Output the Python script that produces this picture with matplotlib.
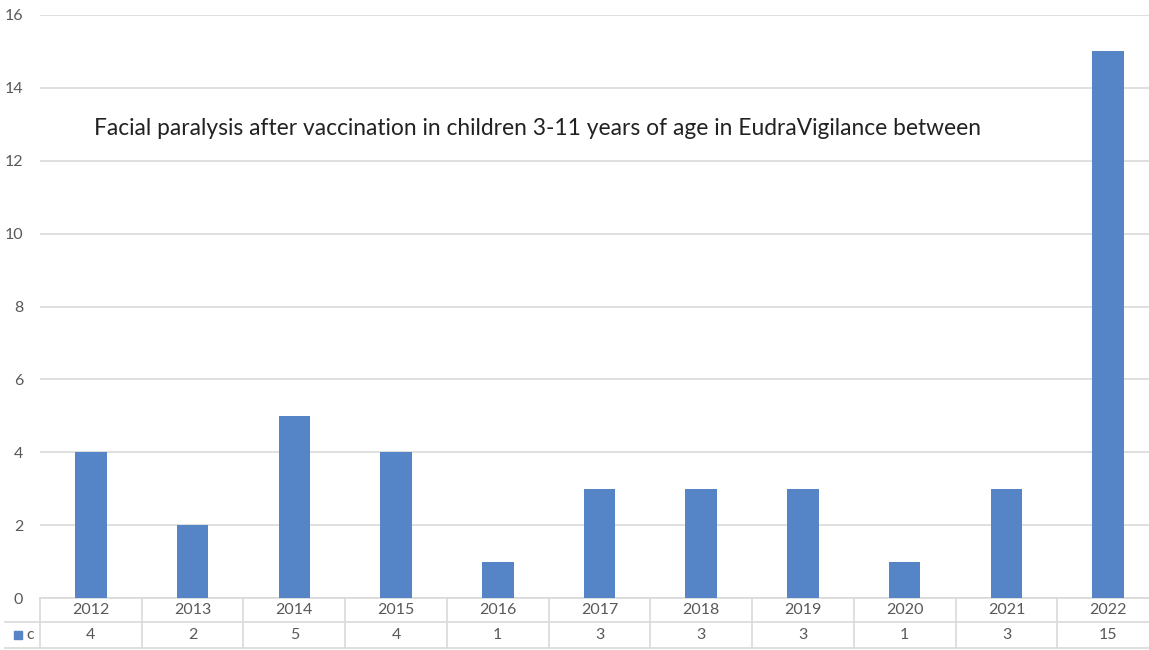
import matplotlib.pyplot as plt
import matplotlib
import numpy as np

matplotlib.rcParams['font.family'] = ['Lato', 'DejaVu Sans']

years = ['2012', '2013', '2014', '2015', '2016', '2017', '2018', '2019', '2020', '2021', '2022']
counts = [4, 2, 5, 4, 1, 3, 3, 3, 1, 3, 15]
series_name = 'c'
title = 'Facial paralysis after vaccination in children 3-11 years of age in EudraVigilance between'

bar_color = '#5585c6'
grid_color = '#d9d9d9'
text_color = '#595959'

W, H = 1149, 650
fig = plt.figure(figsize=(W / 100, H / 100), dpi=100)
ax = fig.add_axes([40 / W, 52 / H, (1159 - 40) / W, 583 / H])

x = np.arange(len(years))
ax.bar(x, counts, width=0.31, color=bar_color, zorder=3)
ax.set_xlim(-0.5, len(years) - 0.5)
ax.set_ylim(0, 16)
ax.set_yticks(range(0, 17, 2))
ax.yaxis.grid(True, color=grid_color, linewidth=1.2, zorder=0)
for s in ax.spines.values():
    s.set_visible(False)
ax.tick_params(axis='y', length=0, labelsize=11.5, labelcolor=text_color, pad=12)
ax.set_xticks([])

ax.text(0.048, 0.805, title, transform=ax.transAxes, fontsize=16.4, color='#222222',
        va='center', ha='left')

# data table under the axis
trans = matplotlib.transforms.blended_transform_factory(ax.transData, fig.transFigure)
row_top = 1 - 598 / H
row_mid = 1 - 622 / H
row_bot = 1 - 648 / H
ax.plot([-0.5, len(years) - 0.5], [row_top, row_top], transform=trans, color=grid_color,
        lw=1.2, clip_on=False)
fig.add_artist(plt.Line2D([5 / W, 1.0], [row_mid, row_mid], color=grid_color, lw=1.2))
fig.add_artist(plt.Line2D([5 / W, 1.0], [row_bot, row_bot], color=grid_color, lw=1.2))
for b in np.arange(-0.5, len(years), 1.0):
    ax.plot([b, b], [row_top, row_bot], transform=trans, color=grid_color, lw=1.2,
            clip_on=False)
for i, (yr, c) in enumerate(zip(years, counts)):
    ax.text(i, (row_top + row_mid) / 2, yr, transform=trans, ha='center', va='center',
            fontsize=11.5, color=text_color)
    ax.text(i, (row_mid + row_bot) / 2, str(c), transform=trans, ha='center', va='center',
            fontsize=11.5, color=text_color)
fig.add_artist(matplotlib.patches.Rectangle((14 / W, 1 - 639 / H), 8 / W, 8 / H,
                                            color=bar_color, transform=fig.transFigure))
fig.text(26 / W, (row_mid + row_bot) / 2, series_name, ha='left', va='center',
         fontsize=11.5, color=text_color)

fig.savefig('out.png', dpi=100)
